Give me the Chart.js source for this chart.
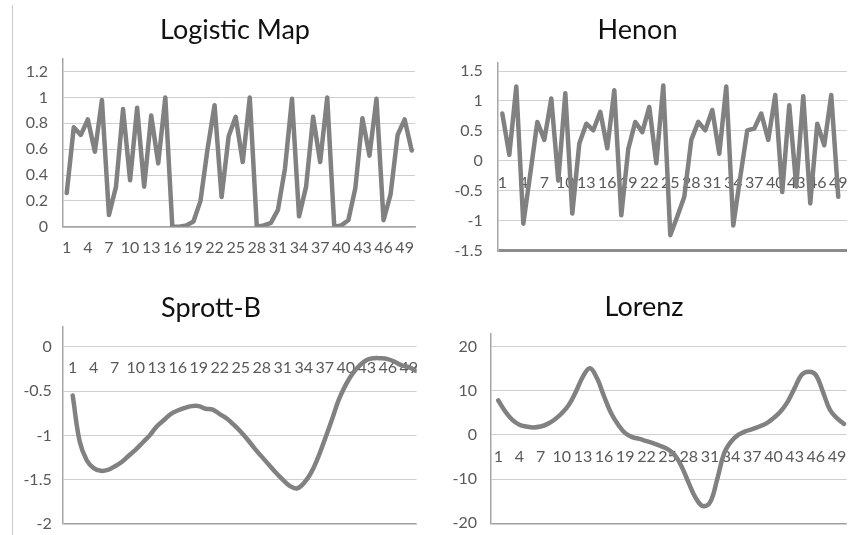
<!DOCTYPE html>
<html><head><meta charset="utf-8">
<script src="https://cdn.jsdelivr.net/npm/chart.js@4.4.1/dist/chart.umd.min.js"></script>
<style>
html,body{margin:0;padding:0;background:#fff;}
body{width:853px;height:535px;position:relative;overflow:hidden;}
.frame{position:absolute;left:12px;top:5px;height:530px;border-left:1px solid #c9c9c9;}
canvas{position:absolute;}
</style></head><body>
<div class="frame"></div>
<canvas id="c1"></canvas>
<canvas id="c2"></canvas>
<canvas id="c3"></canvas>
<canvas id="c4"></canvas>
<script>
const categories = [1,2,3,4,5,6,7,8,9,10,11,12,13,14,15,16,17,18,19,20,21,22,23,24,25,26,27,28,29,30,31,32,33,34,35,36,37,38,39,40,41,42,43,44,45,46,47,48,49,50];
const xTickLabels = [1,4,7,10,13,16,19,22,25,28,31,34,37,40,43,46,49];

const logisticMap = [0.26,0.77,0.71,0.83,0.58,0.98,0.09,0.31,0.91,0.36,0.92,0.31,0.86,0.49,1.0,0.0,0.0,0.01,0.04,0.2,0.6,0.94,0.23,0.7,0.85,0.5,1.0,0.0,0.01,0.03,0.13,0.45,0.99,0.08,0.31,0.85,0.5,1.0,0.0,0.01,0.05,0.3,0.84,0.55,0.99,0.05,0.25,0.71,0.83,0.59];
const henon = [0.79,0.10,1.24,-1.05,-0.21,0.65,0.35,1.04,-0.33,1.13,-0.88,0.29,0.62,0.51,0.82,0.21,1.18,-0.91,0.20,0.65,0.48,0.90,-0.04,1.26,-1.24,-0.93,-0.60,0.35,0.65,0.51,0.85,0.12,1.24,-1.08,-0.27,0.51,0.54,0.79,0.35,1.10,-0.52,0.93,-0.43,1.08,-0.71,0.62,0.26,1.10,-0.60];
const sprottB = [-0.55,-1.07,-1.28,-1.37,-1.40,-1.39,-1.35,-1.30,-1.23,-1.16,-1.08,-1.00,-0.90,-0.83,-0.76,-0.72,-0.69,-0.67,-0.67,-0.70,-0.71,-0.76,-0.81,-0.88,-0.96,-1.05,-1.15,-1.24,-1.33,-1.42,-1.50,-1.57,-1.60,-1.54,-1.43,-1.26,-1.05,-0.83,-0.60,-0.43,-0.30,-0.21,-0.15,-0.13,-0.13,-0.14,-0.17,-0.21,-0.23,-0.27];
const lorenz = [7.8,5.3,3.4,2.3,1.9,1.7,1.9,2.5,3.5,4.9,6.8,9.8,13.2,15.1,12.8,8.7,4.9,2.3,0.4,-0.5,-0.9,-1.4,-1.9,-2.5,-3.2,-4.5,-7.2,-10.9,-14.3,-16.1,-15.3,-10.2,-4.2,-1.5,0.0,0.8,1.3,1.9,2.6,3.8,5.3,7.5,10.6,13.6,14.3,13.6,9.8,5.7,3.8,2.5];

const logisticYTicks = [0,0.2,0.4,0.6,0.8,1,1.2];
const henonYTicks = [-1.5,-1,-0.5,0,0.5,1,1.5];
const sprottYTicks = [-2,-1.5,-1,-0.5,0];
const lorenzYTicks = [-20,-10,0,10,20];

const FONT = 'Lato, "Open Sans", sans-serif';
Chart.defaults.font.family = FONT;

function makePanel(id, title, values, yTicks, g) {
  const cv = document.getElementById(id);
  const cx = Math.min(g.px, 2 * g.title.x - g.area.r);
  const cy = g.py;
  const rightW = 2 * g.title.x - cx - g.area.r;   // spare room right of the plot so the title is centred where it is
  const cw = Math.round(2 * (g.title.x - cx)), ch = g.ph;
  cv.style.left = cx + 'px'; cv.style.top = cy + 'px';
  cv.width = cw; cv.height = ch;
  cv.style.width = cw + 'px'; cv.style.height = ch + 'px';
  const padR = cx + cw - g.area.r - rightW;
  const yW = g.area.l - cx;
  const padB = cy + ch - g.area.b;
  const TS = 27, LH = 1.2;
  const tTop = g.title.y - cy - TS * LH / 2;
  const tBot = g.area.t - cy - tTop - TS * LH;
  new Chart(cv, {
    type: 'line',
    data: { datasets: [{
      data: values.map((v, i) => ({ x: categories[i], y: v })),
      borderColor: '#818181', borderWidth: 4.5, pointRadius: 0,
      tension: g.smooth ? 0.4 : 0, fill: false,
      borderCapStyle: 'round', borderJoinStyle: 'round'
    }]},
    options: {
      responsive: false, animation: false, events: [],
      layout: { padding: { left: 0, right: padR, top: 0, bottom: padB } },
      plugins: {
        legend: { display: false }, tooltip: { enabled: false },
        title: { display: true, text: title, color: '#111111',
          font: { family: FONT, size: TS, weight: 'normal', lineHeight: LH },
          padding: { top: tTop, bottom: tBot } }
      },
      scales: {
        x: {
          type: 'linear', position: { y: 0 }, z: 1,
          min: g.xRange[0], max: g.xRange[1],
          afterBuildTicks: s => { s.ticks = xTickLabels.map(v => ({ value: v })); },
          afterFit: s => { s.paddingLeft = 0; s.paddingRight = 0; },
          grid: { display: false, drawTicks: false },
          border: { display: g.xBorder, color: '#a6a6a6', width: 1.5 },
          ticks: { autoSkip: false, maxRotation: 0, minRotation: 0, padding: 12,
            color: '#595959', font: { size: 16 }, callback: v => String(v) }
        },
        y: {
          type: 'linear', min: g.yRange[0], max: g.yRange[1],
          afterBuildTicks: s => { s.ticks = yTicks.map(v => ({ value: v })); },
          afterFit: s => { s.width = yW; s.paddingTop = 0; s.paddingBottom = 0; },
          grid: { drawTicks: false,
            color: c => (c.tick && c.tick.value === yTicks[0]) ? g.bottomColor : '#cfcfcf',
            lineWidth: c => (c.tick && c.tick.value === yTicks[0]) ? g.bottomWidth : 1 },
          border: { display: true, color: '#a6a6a6', width: 1.5 },
          ticks: { autoSkip: false, padding: g.yPad, color: '#595959', font: { size: 16 }, callback: v => String(v) }
        },
        yR: {
          type: 'linear', axis: 'y', position: 'right', display: true,
          grid: { display: false, drawTicks: false }, border: { display: false },
          ticks: { display: false },
          afterFit: s => { s.width = rightW; s.paddingTop = 0; s.paddingBottom = 0; }
        }
      }
    }
  });
}

makePanel('c1', 'Logistic Map', logisticMap, logisticYTicks, {
  px: 0, py: 0, ph: 270,
  area: { l: 63, r: 415, t: 58.7, b: 226.7 }, title: { x: 235, y: 30.5 },
  xRange: [0.47, 50.47], yRange: [0, 1.3], smooth: false, xBorder: true,
  bottomColor: '#a6a6a6', bottomWidth: 1.5, yPad: 15 });
makePanel('c2', 'Henon', henon, henonYTicks, {
  px: 430, py: 0, ph: 270,
  area: { l: 497.7, r: 847, t: 63, b: 250.7 }, title: { x: 637.5, y: 30.5 },
  xRange: [0.34, 50.25], yRange: [-1.5, 1.634], smooth: false, xBorder: false,
  bottomColor: '#8c8c8c', bottomWidth: 3, yPad: 15 });
makePanel('c3', 'Sprott-B', sprottB, sprottYTicks, {
  px: 0, py: 270, ph: 265,
  area: { l: 62.7, r: 416.7, t: 326.7, b: 524 }, title: { x: 211, y: 308 },
  xRange: [-0.43, 50.14], yRange: [-2, 0.226], smooth: true, xBorder: false,
  bottomColor: '#a0a0a0', bottomWidth: 1.5, yPad: 11 });
makePanel('c4', 'Lorenz', lorenz, lorenzYTicks, {
  px: 430, py: 270, ph: 265,
  area: { l: 491, r: 846.7, t: 333.3, b: 523.3 }, title: { x: 644, y: 307 },
  xRange: [-0.03, 50.38], yRange: [-20, 23], smooth: true, xBorder: false,
  bottomColor: '#a0a0a0', bottomWidth: 1.5, yPad: 14 });
</script>
</body></html>
